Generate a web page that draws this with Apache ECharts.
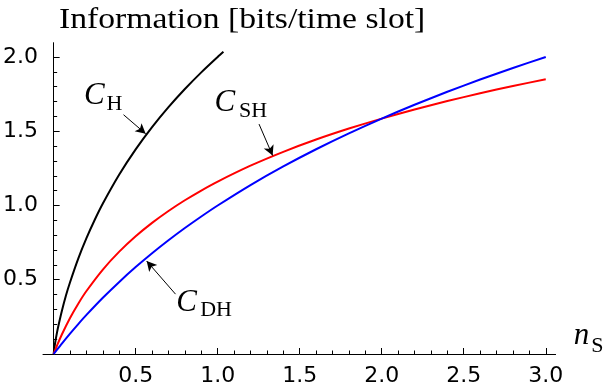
<!DOCTYPE html>
<html>
<head>
<meta charset="utf-8">
<script src="https://cdn.jsdelivr.net/npm/echarts@6/dist/echarts.min.js"></script>
<style>
  html, body { margin: 0; padding: 0; background: #fff; }
  #chart { width: 607px; height: 387px; }
</style>
</head>
<body>
<div id="chart"></div>
<script>
// Mean photon number n_S (x) against information rate in bits per time slot (y)
const nH  = [0, 0.005, 0.01, 0.02, 0.03, 0.05, 0.075, 0.1, 0.15, 0.2, 0.25, 0.3, 0.4, 0.5, 0.6, 0.7, 0.8, 0.9, 1.0, 1.035];
const cH  = [0, 0.0455, 0.0809, 0.142, 0.195, 0.290, 0.394, 0.4834, 0.6424, 0.780, 0.9024, 1.0132, 1.2084, 1.3774, 1.5271, 1.6616, 1.7839, 1.8962, 2.0, 2.0346];

const nS  = [0, 0.01, 0.02, 0.05, 0.1, 0.15, 0.2, 0.3, 0.4, 0.5, 0.6, 0.7, 0.8, 0.9, 1.0, 1.2, 1.4, 1.6, 1.8, 2.0, 2.2, 2.4, 2.6, 2.8, 3.0];
const cSH = [0, 0.0283, 0.0555, 0.1315, 0.2427, 0.339, 0.424, 0.5688, 0.6893, 0.7925, 0.8828, 0.963, 1.0352, 1.1008, 1.161, 1.268, 1.3612, 1.4438, 1.5178, 1.585, 1.6464, 1.703, 1.7555, 1.8044, 1.8502];
const cDH = [0, 0.01436, 0.02857, 0.0704, 0.1375, 0.2016, 0.263, 0.3785, 0.4854, 0.585, 0.6781, 0.7655, 0.848, 0.926, 1.0, 1.1375, 1.263, 1.3785, 1.4854, 1.585, 1.6781, 1.7655, 1.848, 1.926, 2.0];

const xMajor = [0.5, 1.0, 1.5, 2.0, 2.5, 3.0];
const xMinor = [0.1, 0.2, 0.3, 0.4, 0.6, 0.7, 0.8, 0.9, 1.1, 1.2, 1.3, 1.4, 1.6, 1.7, 1.8, 1.9, 2.1, 2.2, 2.3, 2.4, 2.6, 2.7, 2.8, 2.9];
const yMajor = [0.5, 1.0, 1.5, 2.0];
const yMinor = [0.1, 0.2, 0.3, 0.4, 0.6, 0.7, 0.8, 0.9, 1.1, 1.2, 1.3, 1.4, 1.6, 1.7, 1.8, 1.9, 2.0];

const titleText = 'Information [bits/time slot]';

// Curve names: main letter + subscript, anchored in data space (left edge, baseline)
const curveNames = [
  { main: 'C', sub: 'H',  at: [0.185, 1.665], subAt: [0.322, 1.630] },
  { main: 'C', sub: 'SH', at: [0.980, 1.618], subAt: [1.130, 1.586] },
  { main: 'C', sub: 'DH', at: [0.748, 0.272], subAt: [0.893, 0.244] },
  { main: 'n', sub: 'S',  at: [3.170, 0.050], subAt: [3.278, 0.003] }
];
// Pointer arrows from each name to its curve: [from, to]
const pointers = [
  [[0.426, 1.611], [0.561, 1.483]],
  [[1.252, 1.548], [1.335, 1.336]],
  [[0.743, 0.403], [0.567, 0.626]]
];

const X_MIN = -0.065, X_MAX = 3.06, Y_MIN = 0, Y_MAX = 2.096;
const tickFont = { fontFamily: 'DejaVu Sans', fontSize: 22, color: '#000' };
const serif = 'Liberation Serif';

const zip = (xs, ys) => xs.map((x, i) => [x, ys[i]]);
const fmt = v => Number(v).toFixed(1);

const chart = echarts.init(document.getElementById('chart'), null, { renderer: 'canvas' });

const option = {
  animation: false,
  backgroundColor: '#fff',
  grid: { left: 40, right: 51.4, top: 42.7, bottom: 32, containLabel: false },
  xAxis: [
    {
      type: 'value', min: X_MIN, max: X_MAX, position: 'bottom',
      axisLine: { show: true, lineStyle: { color: '#000', width: 1 } },
      axisTick: { show: true, inside: true, length: 6, customValues: xMajor, lineStyle: { color: '#000' } },
      axisLabel: { show: true, customValues: xMajor, formatter: fmt, margin: 11, ...tickFont },
      splitLine: { show: false }
    },
    {
      type: 'value', min: X_MIN, max: X_MAX, position: 'bottom',
      axisLine: { show: false },
      axisTick: { show: true, inside: true, length: 3.5, customValues: xMinor, lineStyle: { color: '#000' } },
      axisLabel: { show: false },
      splitLine: { show: false }
    }
  ],
  yAxis: [
    {
      type: 'value', min: Y_MIN, max: Y_MAX, position: 'left',
      axisLine: { show: true, onZero: true, onZeroAxisIndex: 0, lineStyle: { color: '#000', width: 1 } },
      axisTick: { show: true, inside: true, length: 6, customValues: yMajor, lineStyle: { color: '#000' } },
      axisLabel: { show: true, customValues: yMajor, formatter: fmt, margin: 5, ...tickFont },
      splitLine: { show: false }
    },
    {
      type: 'value', min: Y_MIN, max: Y_MAX, position: 'left',
      axisLine: { show: false, onZero: true, onZeroAxisIndex: 0 },
      axisTick: { show: true, inside: true, length: 3.5, customValues: yMinor, lineStyle: { color: '#000' } },
      axisLabel: { show: false },
      splitLine: { show: false }
    }
  ],
  series: [
    {
      name: 'C_H', type: 'line', data: zip(nH, cH), showSymbol: false, symbol: 'none',
      smooth: 0.25, clip: false,
      lineStyle: { color: '#000', width: 2 },
      markLine: {
        silent: true, symbol: ['none', 'arrow'], symbolSize: [8, 10],
        label: { show: false },
        lineStyle: { color: '#000', width: 1, type: 'solid' },
        emphasis: { disabled: true },
        data: pointers.map(p => [{ coord: p[0] }, { coord: p[1] }])
      }
    },
    {
      name: 'C_SH', type: 'line', data: zip(nS, cSH), showSymbol: false, symbol: 'none',
      smooth: 0.25,
      lineStyle: { color: '#ff0000', width: 2 }
    },
    {
      name: 'C_DH', type: 'line', data: zip(nS, cDH), showSymbol: false, symbol: 'none',
      smooth: 0.25,
      lineStyle: { color: '#0000ff', width: 2 }
    }
  ]
};

chart.setOption(option);

// Text placed by baseline: shift a "middle"-aligned line down so it sits on the given baseline
const toPx = v => chart.convertToPixel({ xAxisIndex: 0, yAxisIndex: 0 }, v);
const baselineShift = size => 0.34 * size;

const graphics = [];
const titleSize = 29;
graphics.push({
  type: 'text', x: 59, y: 30 - baselineShift(titleSize), scaleX: 1.16,
  style: { text: titleText, fontFamily: serif, fontSize: titleSize, fill: '#000',
           align: 'left', verticalAlign: 'middle' }
});
curveNames.forEach(n => {
  const p = toPx(n.at), q = toPx(n.subAt);
  const mainSize = 31, subSize = 22;
  graphics.push({
    type: 'text', x: p[0], y: p[1] - baselineShift(mainSize),
    style: { text: n.main, fontFamily: serif, fontStyle: 'italic', fontSize: mainSize, fill: '#000',
             align: 'left', verticalAlign: 'middle' }
  });
  graphics.push({
    type: 'text', x: q[0], y: q[1] - baselineShift(subSize),
    style: { text: n.sub, fontFamily: serif, fontSize: subSize, fill: '#000',
             align: 'left', verticalAlign: 'middle' }
  });
});
chart.setOption({ graphic: graphics });
</script>
</body>
</html>
